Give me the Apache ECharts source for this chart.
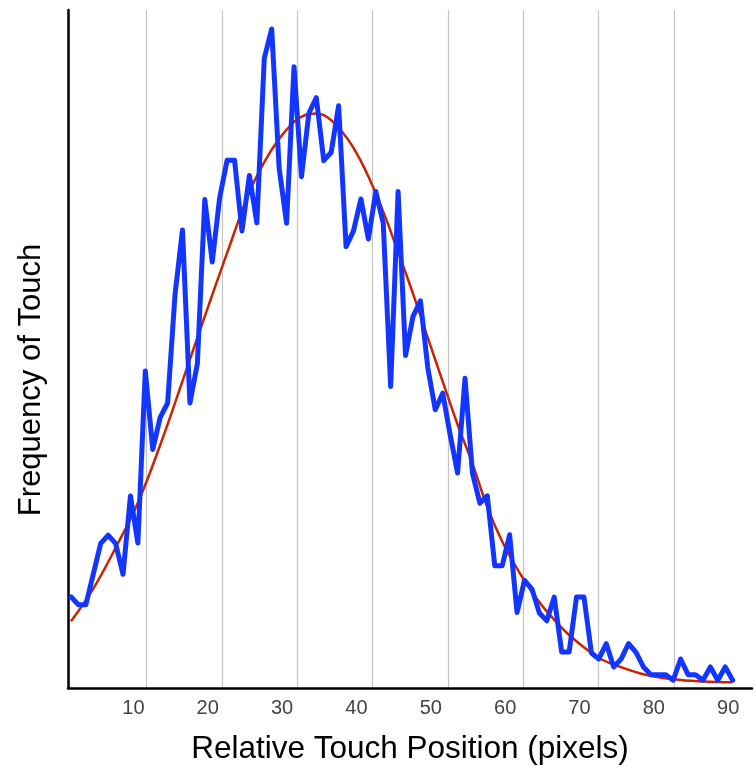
<!DOCTYPE html>
<html>
<head>
<meta charset="utf-8">
<script src="https://cdn.jsdelivr.net/npm/echarts@6/dist/echarts.min.js"></script>
<style>
html,body{margin:0;padding:0;background:#fff;}
#chart{width:755px;height:770px;}
</style>
</head>
<body>
<div id="chart"></div>
<script>
// Relative touch position (pixels) for each measured point
var touchPos = [1,2,3,4,5,6,7,8,9,10,11,12,13,14,15,16,17,18,19,20,21,22,23,24,25,26,27,28,29,30,
  31,32,33,34,35,36,37,38,39,40,41,42,43,44,45,46,47,48,49,50,51,52,53,54,55,56,57,58,59,60,
  61,62,63,64,65,66,67,68,69,70,71,72,73,74,75,76,77,78,79,80,81,82,83,84,85,86,87,88,89,90];
// Measured frequency of touch (blue)
var touchFreq = [80.7,73.7,73.7,100.8,128.0,135.2,128.0,100.6,170.0,128.3,
  280.6,211.1,239.5,252.2,348.5,405.4,252.2,287.0,432.3,377.0,
  433.8,467.0,467.0,404.4,453.6,411.6,557.3,583.2,460.0,411.3,
  549.8,452.5,508.6,522.4,466.7,474.1,515.3,390.6,404.5,432.8,
  397.4,439.3,411.3,266.8,439.3,294.2,328.7,342.6,283.1,246.2,
  260.9,224.1,190.2,274.2,190.2,163.6,170.1,108.2,108.2,135.6,
  66.9,95.2,87.6,66.3,59.5,80.5,31.8,31.8,80.5,80.5,
  31.0,25.7,39.2,18.6,25.7,39.2,31.5,18.6,11.8,11.8,
  11.8,6.9,25.7,11.8,11.8,6.9,18.6,6.9,18.6,6.9];
// Fitted curve (red)
var fitPos = [1,4,7,10,13,16,19,22,25,27,29,31,32,33,34,35,36,37,39,41,43,45,47,49,51,53,55,57,59,61,63,65,68,72,75,78,82,86,90];
var fitFreq = [59,88,124,164,215,271.5,329,385,439,465.4,486,501,505.5,508,508.5,507,502.5,496,478,452.7,421.6,385.8,349,309.8,271.2,233.2,198.6,160,129.7,105.6,85,67.8,46.9,26.8,18.4,12.2,7.8,5.8,5.0];
// Axis tick labels and gridlines
var tickLabels = [10,20,30,40,50,60,70,80,90];
var gridLines = [10,20,30,40,50,60,70,80];
var xTitle = 'Relative Touch Position (pixels)';
var yTitle = 'Frequency of Touch';

function pairs(xs, ys){ var out=[]; for (var i=0;i<xs.length;i++) out.push([xs[i], ys[i]]); return out; }

var chart = echarts.init(document.getElementById('chart'), null, {renderer:'canvas'});
var FONT = "'Liberation Sans', Arial, Helvetica, sans-serif";
chart.setOption({
  animation: false,
  backgroundColor: '#ffffff',
  grid: [
    {left: 68, right: 0, top: 10, bottom: 82, containLabel: false},
    {left: 146.7, right: 81, top: 10, bottom: 82, containLabel: false}
  ],
  xAxis: [
    {
      type: 'value', gridIndex: 0, min: 0.6, max: 92.6, splitNumber: 9,
      axisLine: {show: true, onZero: false, lineStyle: {color: '#000', width: 2.5}},
      axisTick: {show: false},
      splitLine: {show: false},
      axisLabel: {
        color: '#444', fontSize: 20, fontFamily: FONT, margin: 10,
        padding: [0, 9, 0, 0],
        formatter: function(v){ return tickLabels.indexOf(Math.round(v*1000)/1000) >= 0 ? String(v) : ''; }
      },
      name: xTitle, nameLocation: 'middle', nameGap: 45,
      nameTextStyle: {color: '#000', fontSize: 31.5, fontFamily: FONT}
    },
    {
      type: 'value', gridIndex: 1, min: gridLines[0], max: gridLines[gridLines.length-1], interval: 10,
      axisLine: {show: false}, axisTick: {show: false}, axisLabel: {show: false},
      splitLine: {show: true, lineStyle: {color: '#c4c4c4', width: 1.2}}
    }
  ],
  yAxis: [
    {
      type: 'value', gridIndex: 0, min: 0, max: 600,
      axisLine: {show: true, onZero: false, lineStyle: {color: '#000', width: 2.5}},
      axisTick: {show: false}, axisLabel: {show: false}, splitLine: {show: false},
      name: yTitle, nameLocation: 'middle', nameGap: 21, nameRotate: 90,
      nameTextStyle: {color: '#000', fontSize: 31, fontFamily: FONT, padding: [0, 62, 0, 0]}
    },
    {type: 'value', gridIndex: 1, min: 0, max: 600, show: false}
  ],
  series: [
    {
      type: 'line', xAxisIndex: 0, yAxisIndex: 0, data: pairs(fitPos, fitFreq),
      smooth: 0.4, symbol: 'none', z: 2,
      lineStyle: {color: '#cc2200', width: 2.5}
    },
    {
      type: 'line', xAxisIndex: 0, yAxisIndex: 0, data: pairs(touchPos, touchFreq),
      symbol: 'none', z: 3,
      lineStyle: {color: '#1236ff', width: 5, join: 'round', cap: 'round'}
    }
  ]
});
</script>
</body>
</html>
